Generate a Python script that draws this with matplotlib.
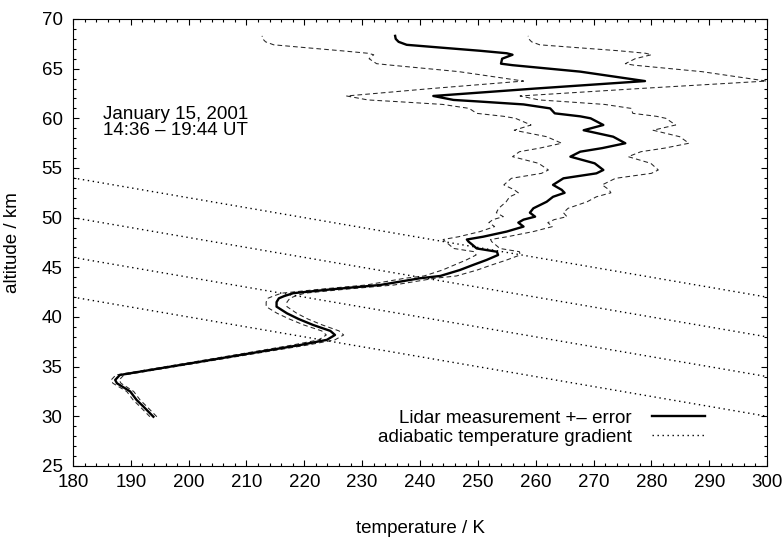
import numpy as np
import matplotlib.pyplot as plt
from matplotlib.ticker import MultipleLocator

plt.rcParams['font.family'] = ['Liberation Sans', 'DejaVu Sans']

# lidar profile: altitude (km), temperature (K), error (K)
altitude = [29.96, 30.97, 31.65, 32.5, 33.33, 33.66, 34.16, 35.5, 36.5, 37.18,
            37.7, 38.19, 38.6, 39.2, 39.8, 40.37, 41.04, 41.5, 41.88, 42.1,
            42.4, 42.8, 43.22, 43.9, 44.13, 44.73, 45.2, 45.74, 46.24, 46.57,
            46.9, 47.3, 47.58, 47.8, 48.08, 48.6, 49.1, 49.5, 49.8, 50.1,
            50.5, 50.94, 51.6, 52.1, 52.5, 52.8, 53.3, 53.96, 54.46, 54.8,
            55.47, 56.14, 56.64, 57.0, 57.49, 58.15, 58.8, 59.33, 60.0, 60.2,
            60.5, 61.0, 61.4, 61.7, 61.85, 62.25, 63.0, 63.75, 64.7, 65.35,
            65.5, 66.0, 66.4, 66.55, 66.8, 67.1, 67.4, 67.7, 68.0, 68.3]
temperature = [193.9, 192.2, 191.0, 189.9, 187.6, 187.3, 188.1, 202.0, 212.3, 219.3,
               223.9, 225.3, 224.5, 221.5, 219.0, 217.0, 215.2, 215.2, 215.6, 216.5,
               218.1, 225.0, 233.1, 240.0, 243.5, 246.9, 249.0, 251.5, 253.5, 253.3,
               249.8, 249.0, 248.4, 248.1, 250.9, 255.0, 257.9, 257.0, 257.9, 259.9,
               259.0, 259.6, 261.9, 263.0, 265.0, 264.5, 263.0, 264.8, 270.5, 271.7,
               270.2, 266.0, 267.7, 271.5, 275.5, 273.4, 268.3, 271.7, 269.5, 267.7,
               263.3, 262.5, 257.9, 250.0, 245.8, 242.3, 260.0, 278.9, 267.7, 256.0,
               254.0, 254.2, 256.0, 255.0, 250.4, 244.0, 237.7, 236.3, 235.8, 235.7]
error = [0.6, 0.6, 0.6, 0.6, 0.7, 0.7, 0.7, 0.9, 1.1, 1.3,
         1.4, 1.5, 1.5, 1.6, 1.6, 1.7, 1.8, 1.8, 1.9, 1.9,
         2.0, 2.2, 2.4, 2.6, 2.8, 3.0, 3.2, 3.5, 3.8, 3.9,
         4.0, 4.0, 4.0, 4.1, 4.2, 4.6, 5.0, 5.1, 5.3, 5.5,
         5.8, 6.0, 7.0, 7.5, 8.0, 8.2, 8.5, 9.0, 9.5, 9.5,
         9.7, 10.0, 10.5, 10.8, 11.0, 11.5, 12.0, 12.5, 13.0, 13.2,
         13.5, 14.0, 14.0, 14.5, 14.8, 15.0, 18.0, 21.0, 21.0, 21.0,
         21.5, 23.0, 24.0, 24.0, 24.0, 23.5, 23.0, 23.0, 23.0, 23.0]

# adiabatic gradient lines: altitude at 180 K and at 300 K
adiab_T = [180, 300]
adiab_start = [54, 50, 46, 42]
adiab_end = [42, 38, 34, 30]

T = np.array(temperature)
err = np.array(error)
fs = 13.5

fig = plt.figure(figsize=(7.83, 5.44), dpi=100)
ax = fig.add_axes([0.0932, 0.1434, 0.8864, 0.8217])

ax.plot(T - err, altitude, color='0.15', lw=0.75, dashes=(4.5, 3))
ax.plot(T + err, altitude, color='0.15', lw=0.75, dashes=(4.5, 3))
ax.plot(T, altitude, color='black', lw=1.7, label='Lidar measurement +\u2013 error')

for i in range(len(adiab_start)):
    ax.plot(adiab_T, [adiab_start[i], adiab_end[i]], color='black', lw=1.0,
            dashes=(1, 2.6), label='adiabatic temperature gradient' if i == 0 else None)

ax.set_xlim(180, 300)
ax.set_ylim(25, 70)
ax.xaxis.set_major_locator(MultipleLocator(10))
ax.xaxis.set_minor_locator(MultipleLocator(2))
ax.yaxis.set_major_locator(MultipleLocator(5))
ax.yaxis.set_minor_locator(MultipleLocator(1))
ax.tick_params(which='both', direction='in', top=True, right=True, labelsize=fs, width=0.8)
ax.tick_params(which='major', length=4.5)
ax.tick_params(which='minor', length=2.3)
ax.tick_params(axis='x', which='major', pad=6)
ax.tick_params(axis='y', which='major', pad=7.5)
for s in ax.spines.values():
    s.set_linewidth(0.8)

ax.set_xlabel('temperature / K', fontsize=fs, labelpad=21)
ax.set_ylabel('altitude / km', fontsize=fs, labelpad=15)

ax.text(0.043, 0.805, 'January 15, 2001\n14:36 \u2013 19:44 UT', transform=ax.transAxes,
        fontsize=fs, va='top', ha='left', linespacing=0.92)

ax.legend(loc='lower right', bbox_to_anchor=(0.9107, 0.045), frameon=False,
          markerfirst=False, fontsize=fs, handlelength=2.85, handletextpad=1.05,
          labelspacing=0.12, borderpad=0, borderaxespad=0)

fig.savefig('out.png', dpi=100)
